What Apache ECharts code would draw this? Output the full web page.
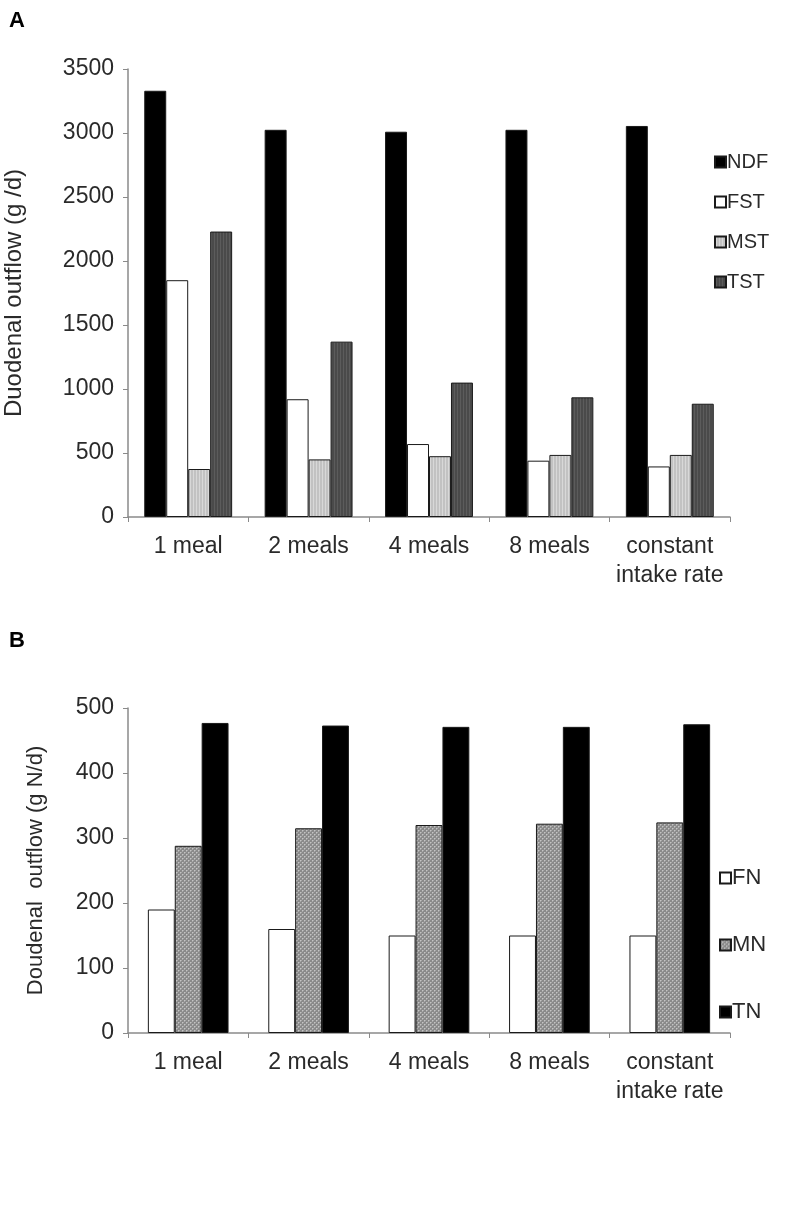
<!DOCTYPE html>
<html><head><meta charset="utf-8">
<script src="https://cdn.jsdelivr.net/npm/echarts@6/dist/echarts.min.js"></script>
<style>html,body{margin:0;padding:0;background:#fff}#c{width:800px;height:1206px}</style>
</head><body><div id="c"></div>
<script>
// ---- data ----
const categories = ['1 meal', '2 meals', '4 meals', '8 meals', 'constant\nintake rate'];
const ndf = [3330, 3025, 3010, 3025, 3055];
const fst = [1850, 920, 570, 440, 395];
const mst = [375, 450, 475, 485, 485];
const tst = [2230, 1370, 1050, 935, 885];
const yTicksA = { min: 0, max: 3500, step: 500 };
const fn = [190, 160, 150, 150, 150];
const mn = [288, 315, 320, 322, 324];
const tn = [477, 473, 471, 471, 475];
const yTicksB = { min: 0, max: 500, step: 100 };

// ---- patterns ----
function pattern(w, h, draw) {
  const c = document.createElement('canvas'); c.width = w; c.height = h;
  const g = c.getContext('2d'); draw(g);
  return { image: c, repeat: 'repeat' };
}
const mstFill = pattern(3, 3, g => { g.fillStyle = '#c2c2c2'; g.fillRect(0,0,3,3); g.fillStyle = '#d8d8d8'; g.fillRect(1,0,1,3); });
const tstFill = pattern(3, 3, g => { g.fillStyle = '#4a4a4a'; g.fillRect(0,0,3,3); g.fillStyle = '#5c5c5c'; g.fillRect(1,0,1,3); });
const mnFill = pattern(4, 4, g => {
  g.fillStyle = '#8a8a8a'; g.fillRect(0,0,4,4);
  g.fillStyle = '#c4c4c4'; g.fillRect(0,0,1,1); g.fillRect(2,2,1,1);
  g.fillStyle = '#a8a8a8'; g.fillRect(1,0,1,1); g.fillRect(0,1,1,1); g.fillRect(3,2,1,1); g.fillRect(2,3,1,1);
});

const font = 'Liberation Sans, Arial, sans-serif';
const txt = '#2a2a2a';
const axisGray = '#8a8a8a';

function xAx(gi) {
  return {
    type: 'category', gridIndex: gi, data: categories,
    axisLine: { lineStyle: { color: axisGray, width: 1.5 } },
    axisTick: { show: true, length: 5, lineStyle: { color: axisGray } },
    axisLabel: { fontFamily: font, fontSize: 23, color: txt, margin: 15, lineHeight: 29, interval: 0 }
  };
}
function yAx(gi, t, name, gap, nameSize) {
  return {
    type: 'value', gridIndex: gi, min: t.min, max: t.max, interval: t.step,
    name: name, nameLocation: 'middle', nameRotate: 90, nameGap: gap,
    nameTextStyle: { fontFamily: font, fontSize: nameSize, color: txt },
    splitLine: { show: false },
    axisLine: { show: true, lineStyle: { color: axisGray, width: 1.5 } },
    axisTick: { show: true, length: 5, lineStyle: { color: axisGray } },
    axisLabel: { fontFamily: font, fontSize: 23, color: txt, margin: 14, formatter: v => String(v) }
  };
}
const border = { borderColor: '#1a1a1a', borderWidth: 1 };
function bar(name, data, color, gi, gap) {
  return {
    name: name, type: 'bar', data: data, xAxisIndex: gi, yAxisIndex: gi,
    barGap: '0%', barCategoryGap: gap,
    itemStyle: Object.assign({ color: color }, border),
    emphasis: { disabled: true }, animation: false
  };
}

const chart = echarts.init(document.getElementById('c'), null, { renderer: 'canvas' });
chart.setOption({
  animation: false,
  backgroundColor: '#fff',
  title: [
    { text: 'A', left: 4, top: 5, textStyle: { fontFamily: font, fontSize: 22, fontWeight: 'bold', color: '#000' } },
    { text: 'B', left: 4, top: 625, textStyle: { fontFamily: font, fontSize: 22, fontWeight: 'bold', color: '#000' } }
  ],
  grid: [
    { left: 128, top: 69, width: 602, height: 448, containLabel: false, outerBoundsMode: 'none' },
    { left: 128, top: 708, width: 602, height: 325, containLabel: false, outerBoundsMode: 'none' }
  ],
  xAxis: [xAx(0), xAx(1)],
  yAxis: [yAx(0, yTicksA, 'Duodenal outflow (g /d)', 102, 24), yAx(1, yTicksB, 'Doudenal  outflow (g N/d)', 81, 22)],
  legend: [
    { data: ['NDF', 'FST', 'MST', 'TST'], orient: 'vertical', left: 709, top: 147, itemWidth: 11, itemHeight: 11,
      itemGap: 20, icon: 'rect', selectedMode: false,
      textStyle: { fontFamily: font, fontSize: 20, color: txt, padding: [0, 0, 0, -4] } },
    { data: ['FN', 'MN', 'TN'], orient: 'vertical', left: 714, top: 862, itemWidth: 11, itemHeight: 11,
      itemGap: 45, icon: 'rect', selectedMode: false,
      textStyle: { fontFamily: font, fontSize: 22, color: txt, padding: [0, 0, 0, -4] } }
  ],
  series: [
    bar('NDF', ndf, '#000000', 0, '27%'),
    bar('FST', fst, '#ffffff', 0, '27%'),
    bar('MST', mst, mstFill, 0, '27%'),
    bar('TST', tst, tstFill, 0, '27%'),
    bar('FN', fn, '#ffffff', 1, '33%'),
    bar('MN', mn, mnFill, 1, '33%'),
    bar('TN', tn, '#000000', 1, '33%')
  ]
});
</script></body></html>
